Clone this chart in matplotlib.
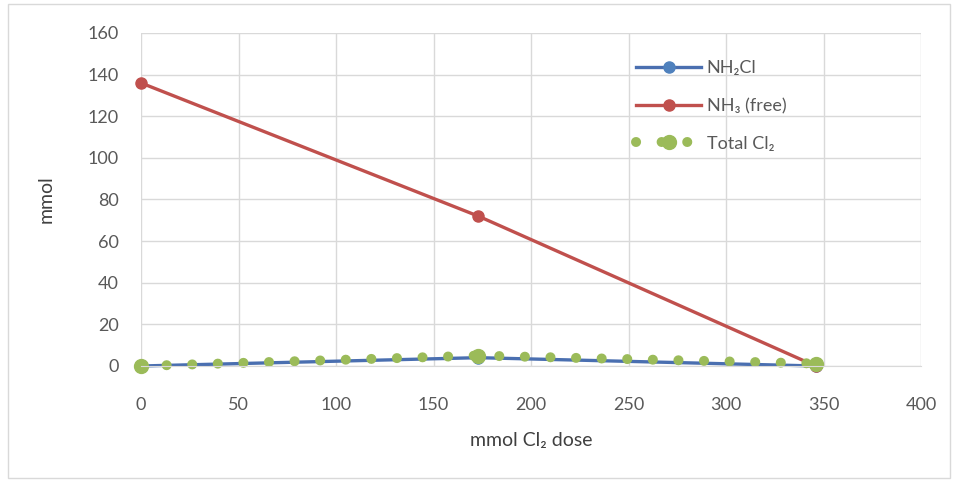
import matplotlib.pyplot as plt
from matplotlib.patches import Rectangle

# data
dose = [0, 173, 346]
nh2cl = [0, 4, 0]
nh3_free = [136, 72, 0]
total_cl2 = [0, 5, 1.2]

x_ticks = [0, 50, 100, 150, 200, 250, 300, 350, 400]
y_ticks = [0, 20, 40, 60, 80, 100, 120, 140, 160]

plt.rcParams['font.family'] = ['Lato', 'DejaVu Sans']

fig = plt.figure(figsize=(9.59, 4.84), dpi=100)
ax = fig.add_axes([141 / 959, 1 - 366 / 484, 780 / 959, 333 / 484])

# outer chart border
fig.patches.append(Rectangle((8 / 959, 6 / 484), 942 / 959, 474 / 484,
                             transform=fig.transFigure, fill=False,
                             edgecolor='#D9D9D9', linewidth=1))

ax.plot(dose, nh2cl, color='#4A6FB0', linewidth=2.4, marker='o',
        markersize=8, markerfacecolor='#4F81BD', markeredgecolor='#4F81BD',
        label='NH₂Cl', clip_on=False)
ax.plot(dose, nh3_free, color='#C0504D', linewidth=2.4, marker='o',
        markersize=8, markerfacecolor='#C0504D', markeredgecolor='#C0504D',
        label='NH₃ (free)', clip_on=False)
ax.plot(dose, total_cl2, color='#9BBB59', linewidth=7.2,
        linestyle=(0, (0.01, 2.55)), dash_capstyle='round', marker='o',
        markersize=10, markerfacecolor='#9BBB59', markeredgecolor='#9BBB59',
        label='Total Cl₂', clip_on=False)

ax.set_xlim(0, 400)
ax.set_ylim(0, 160)
ax.set_xticks(x_ticks)
ax.set_yticks(y_ticks)
ax.grid(True, color='#D9D9D9', linewidth=1)
ax.set_axisbelow(True)
for side in ['top', 'right', 'left']:
    ax.spines[side].set_visible(False)
ax.spines['bottom'].set_color('#D9D9D9')
ax.tick_params(length=0, labelsize=13, labelcolor='#595959')
ax.tick_params(axis='x', pad=22)
ax.tick_params(axis='y', pad=16)

ax.set_xlabel('mmol Cl₂ dose', fontsize=14, color='#404040', labelpad=14)
ax.set_ylabel('mmol', fontsize=14, color='#404040', labelpad=24)

ax.legend(loc='upper left', bbox_to_anchor=(620 / 959, 1 - 44 / 484),
          bbox_transform=fig.transFigure, frameon=False, fontsize=13,
          handlelength=3.6, handletextpad=0.3, labelspacing=1.2,
          numpoints=1, labelcolor='#595959')

fig.savefig('out.png', dpi=100, facecolor='white')
